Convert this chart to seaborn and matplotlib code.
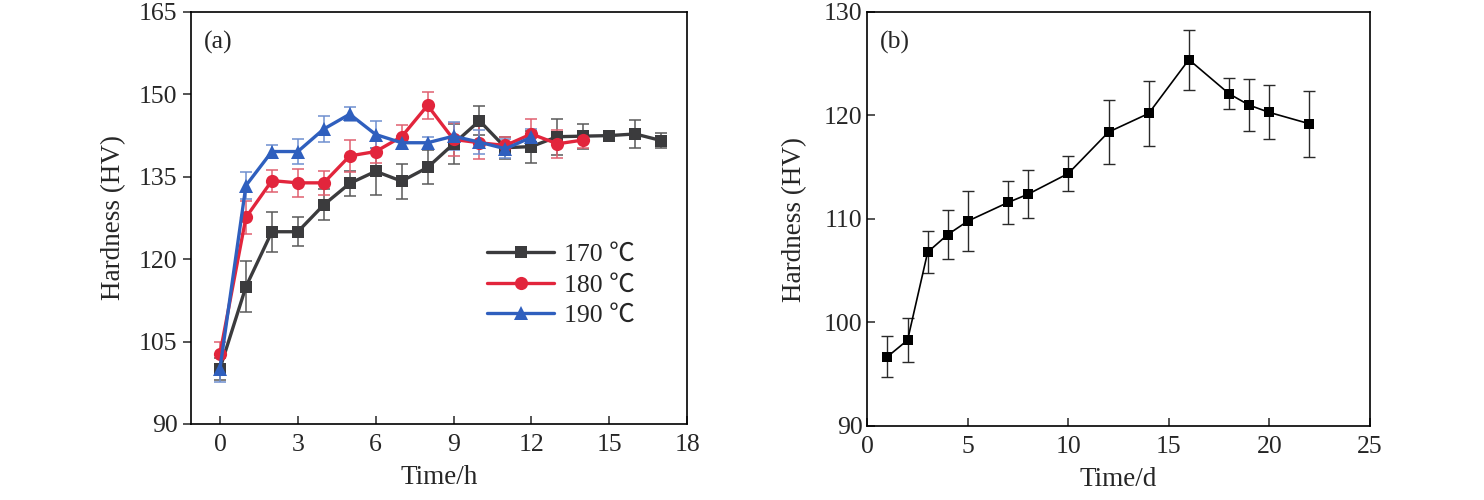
import numpy as np
import pandas as pd
import matplotlib
matplotlib.use("Agg")
import matplotlib.pyplot as plt
import seaborn as sns

# ---------------- data ----------------
t_a = [0, 1, 2, 3, 4, 5, 6, 7, 8, 9, 10, 11, 12, 13, 14, 15, 16, 17]
h170 = [100.1, 115.0, 125.0, 125.0, 129.9, 133.8, 136.0, 134.2, 136.7, 141.0,
        145.2, 140.3, 140.5, 142.3, 142.4, 142.5, 142.8, 141.6]
e170 = [2.0, 4.7, 3.6, 2.6, 2.8, 2.3, 4.3, 3.2, 3.1, 3.6, 2.6, 2.0, 2.9, 3.3,
        2.3, 0.5, 2.6, 1.3]

t180 = [0, 1, 2, 3, 4, 5, 6, 7, 8, 9, 10, 11, 12, 13, 14]
h180 = [102.8, 127.6, 134.3, 133.9, 133.9, 138.8, 139.6, 142.3, 148.0, 141.8,
        141.2, 140.7, 142.8, 141.0, 141.7]
e180 = [2.1, 3.0, 2.0, 2.5, 2.2, 2.9, 2.0, 2.2, 2.4, 3.0, 3.0, 1.5, 2.8, 2.6, 1.5]

t190 = [0, 1, 2, 3, 4, 5, 6, 7, 8, 9, 10, 11, 12]
h190 = [100.1, 133.4, 139.6, 139.6, 143.7, 146.4, 142.7, 141.2, 141.2, 142.4,
        141.3, 140.1, 142.2]
e190 = [2.4, 2.4, 1.2, 2.3, 2.4, 1.3, 2.4, 1.2, 1.1, 2.6, 2.2, 1.7, 1.5]

labels_a = ["170 \u2103", "180 \u2103", "190 \u2103"]

t_b = [1, 2, 3, 4, 5, 7, 8, 10, 12, 14, 16, 18, 19, 20, 22]
h_b = [96.7, 98.3, 106.8, 108.5, 109.8, 111.6, 112.4, 114.4, 118.4, 120.2,
       125.4, 122.1, 121.0, 120.3, 119.2]
e_b = [2.0, 2.1, 2.0, 2.4, 2.9, 2.1, 2.3, 1.7, 3.1, 3.1, 2.9, 1.5, 2.5, 2.6, 3.2]

# ---------------- style ----------------
sns.set_theme(style="white")
plt.rcParams["font.family"] = ["Liberation Serif", "Noto Sans CJK SC", "DejaVu Serif"]
plt.rcParams["axes.linewidth"] = 1.2
plt.rcParams["axes.edgecolor"] = "black"
FS = 18.5
LFS = 19.5

fig = plt.figure(figsize=(14.84, 5.0), dpi=100)
ax1 = fig.add_axes([0.1290, 0.152, 0.3340, 0.824])
ax2 = fig.add_axes([0.5845, 0.148, 0.3385, 0.828])

# ---------------- panel (a) ----------------
series = [
    (t_a, h170, e170, "#3b3b3d", "#5a5a5a", "s", 9, labels_a[0]),
    (t180, h180, e180, "#e2253c", "#e06070", "o", 9.5, labels_a[1]),
    (t190, h190, e190, "#2f5fbe", "#6f8fcf", "^", 10, labels_a[2]),
]
for t, h, e, c, ec, m, ms, lab in series:
    ax1.errorbar(t, h, yerr=e, fmt="none", ecolor=ec, elinewidth=1.1,
                 capsize=4, capthick=1.1, zorder=2)
for t, h, e, c, ec, m, ms, lab in series:
    df = pd.DataFrame({"t": t, "h": h})
    sns.lineplot(data=df, x="t", y="h", ax=ax1, color=c, marker=m,
                 markersize=ms, markeredgewidth=0, linewidth=2.4,
                 label=lab, zorder=3)

ax1.set_xlim(-1.1, 18)
ax1.set_ylim(90, 165)
ax1.set_xticks([0, 3, 6, 9, 12, 15, 18])
ax1.set_yticks([90, 105, 120, 135, 150, 165])
ax1.tick_params(axis="x", direction="in", length=6, width=1.1, labelsize=FS,
                pad=7, bottom=True, top=False)
ax1.tick_params(axis="y", direction="out", length=6, width=1.1, labelsize=FS,
                pad=4, left=True, right=False)
ax1.set_xlabel("Time/h", fontsize=LFS, labelpad=7)
ax1.set_ylabel("Hardness (HV)", fontsize=LFS, labelpad=9)
ax1.text(0.025, 0.955, "(a)", transform=ax1.transAxes, fontsize=FS,
         ha="left", va="top")
for s in ax1.spines.values():
    s.set_visible(True)
    s.set_linewidth(1.2)
    s.set_color("black")
leg = ax1.legend(loc="center left", bbox_to_anchor=(0.597, 0.337),
                 frameon=False, fontsize=FS, handlelength=2.6,
                 handletextpad=0.4, labelspacing=0.3, borderpad=0,
                 borderaxespad=0)

# ---------------- panel (b) ----------------
ax2.errorbar(t_b, h_b, yerr=e_b, fmt="none", ecolor="#2a2a2a", elinewidth=1.0,
             capsize=4.5, capthick=1.0, zorder=2)
dfb = pd.DataFrame({"t": t_b, "h": h_b})
sns.lineplot(data=dfb, x="t", y="h", ax=ax2, color="black", marker="s",
             markersize=7.5, markeredgewidth=0, linewidth=1.2, zorder=3)
ax2.set_xlim(0, 25)
ax2.set_ylim(90, 130)
ax2.set_xticks([0, 5, 10, 15, 20, 25])
ax2.set_yticks([90, 100, 110, 120, 130])
ax2.tick_params(axis="both", direction="in", length=6, width=1.1,
                labelsize=FS, bottom=True, left=True, top=False, right=False)
ax2.tick_params(axis="x", pad=7)
ax2.set_xlabel("Time/d", fontsize=LFS, labelpad=7)
ax2.set_ylabel("Hardness (HV)", fontsize=LFS, labelpad=12)
ax2.text(0.025, 0.955, "(b)", transform=ax2.transAxes, fontsize=FS,
         ha="left", va="top")
for s in ax2.spines.values():
    s.set_visible(True)
    s.set_linewidth(1.2)
    s.set_color("black")

fig.savefig("out.png", dpi=100, facecolor="white")
